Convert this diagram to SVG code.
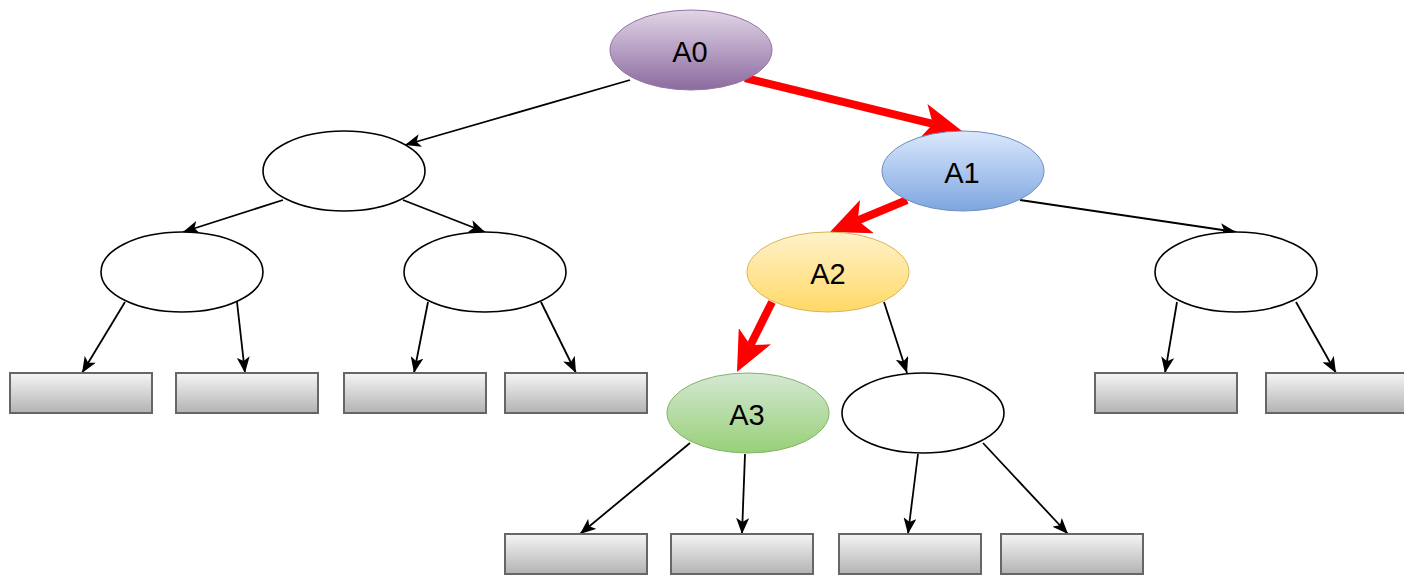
<svg xmlns="http://www.w3.org/2000/svg" width="1404" height="578" viewBox="0 0 1404 578">
<style>
.txt{font-family:"Liberation Sans",Arial,sans-serif;font-size:29px;fill:#000;text-anchor:middle}
.plain{fill:#fff;stroke:#000;stroke-width:1.6}
.leaf{fill:url(#gGray);stroke:#666;stroke-width:2}
.e{fill:none;stroke:#000;stroke-width:1.8;marker-end:url(#ab)}
.r{fill:none;stroke:#f00;stroke-width:8;marker-end:url(#ar)}
</style>
<defs>
<linearGradient id="gPurple" x1="0" y1="0" x2="0" y2="1"><stop offset="0" stop-color="#e1d5e7"/><stop offset="1" stop-color="#8c6a9f"/></linearGradient>
<linearGradient id="gBlue" x1="0" y1="0" x2="0" y2="1"><stop offset="0" stop-color="#dae8fc"/><stop offset="1" stop-color="#7ea6e0"/></linearGradient>
<linearGradient id="gYellow" x1="0" y1="0" x2="0" y2="1"><stop offset="0" stop-color="#fff2cc"/><stop offset="1" stop-color="#ffd966"/></linearGradient>
<linearGradient id="gGreen" x1="0" y1="0" x2="0" y2="1"><stop offset="0" stop-color="#d5e8d4"/><stop offset="1" stop-color="#97d077"/></linearGradient>
<linearGradient id="gGray" x1="0" y1="0" x2="0" y2="1"><stop offset="0" stop-color="#f5f5f5"/><stop offset="1" stop-color="#b3b3b3"/></linearGradient>
<marker id="ab" viewBox="0 0 16 13" refX="16" refY="6.5" markerWidth="16" markerHeight="13" markerUnits="userSpaceOnUse" orient="auto"><path d="M0,0 L16,6.5 L0,13 L4,6.5 Z" fill="#000"/></marker>
<marker id="ar" viewBox="0 0 40 36" refX="10" refY="18" markerWidth="40" markerHeight="36" markerUnits="userSpaceOnUse" orient="auto"><path d="M0,0 L40,18 L0,36 L10,18 Z" fill="#f00"/></marker>
</defs>
<g id="connectors">
<path class="e" d="M630,80 L405,145"/>
<path class="e" d="M1020,200 L1236,232"/>
<path class="e" d="M283,200 L183,232"/>
<path class="e" d="M403,200 L485,232"/>
<path class="e" d="M125,302 L82,373"/>
<path class="e" d="M237,302 L245,373"/>
<path class="e" d="M428,302 L414,373"/>
<path class="e" d="M541,302 L576,373"/>
<path class="e" d="M884,302 L907,373"/>
<path class="e" d="M1177,302 L1165,373"/>
<path class="e" d="M1296,302 L1336,373"/>
<path class="e" d="M690,443 L580,534"/>
<path class="e" d="M745,454 L742,534"/>
<path class="e" d="M918,454 L908,534"/>
<path class="e" d="M983,443 L1068,534"/>
<path class="r" d="M745,78 L932.9,123.9"/>
<path class="r" d="M907,200 L857.7,220.5"/>
<path class="r" d="M772,302 L750.4,345.2"/>
</g>
<g id="A0"><ellipse cx="691" cy="50" rx="81" ry="40" fill="url(#gPurple)" stroke="#9673a6" stroke-width="1"/><text class="txt" x="690" y="62">A0</text></g>
<g id="n1L"><ellipse class="plain" cx="344" cy="171" rx="81" ry="40"/></g>
<g id="A1"><ellipse cx="963" cy="171" rx="81" ry="40" fill="url(#gBlue)" stroke="#6c8ebf" stroke-width="1"/><text class="txt" x="962" y="183">A1</text></g>
<g id="n2a"><ellipse class="plain" cx="182" cy="272" rx="81" ry="40"/></g>
<g id="n2b"><ellipse class="plain" cx="485" cy="272" rx="81" ry="40"/></g>
<g id="A2"><ellipse cx="828" cy="272" rx="81" ry="40" fill="url(#gYellow)" stroke="#d6b656" stroke-width="1"/><text class="txt" x="828" y="284">A2</text></g>
<g id="n2d"><ellipse class="plain" cx="1236" cy="272" rx="81" ry="40"/></g>
<g id="A3"><ellipse cx="748" cy="413" rx="81" ry="40" fill="url(#gGreen)" stroke="#82b366" stroke-width="1"/><text class="txt" x="747" y="425">A3</text></g>
<g id="n3b"><ellipse class="plain" cx="923" cy="413" rx="81" ry="40"/></g>
<g id="leaf1"><rect class="leaf" x="10" y="373" width="142" height="40"/></g>
<g id="leaf2"><rect class="leaf" x="176" y="373" width="142" height="40"/></g>
<g id="leaf3"><rect class="leaf" x="344" y="373" width="142" height="40"/></g>
<g id="leaf4"><rect class="leaf" x="505" y="373" width="142" height="40"/></g>
<g id="leaf5"><rect class="leaf" x="1095" y="373" width="142" height="40"/></g>
<g id="leaf6"><rect class="leaf" x="1266" y="373" width="142" height="40"/></g>
<g id="leaf7"><rect class="leaf" x="505" y="534" width="142" height="40"/></g>
<g id="leaf8"><rect class="leaf" x="671" y="534" width="142" height="40"/></g>
<g id="leaf9"><rect class="leaf" x="839" y="534" width="142" height="40"/></g>
<g id="leaf10"><rect class="leaf" x="1001" y="534" width="142" height="40"/></g>
</svg>
